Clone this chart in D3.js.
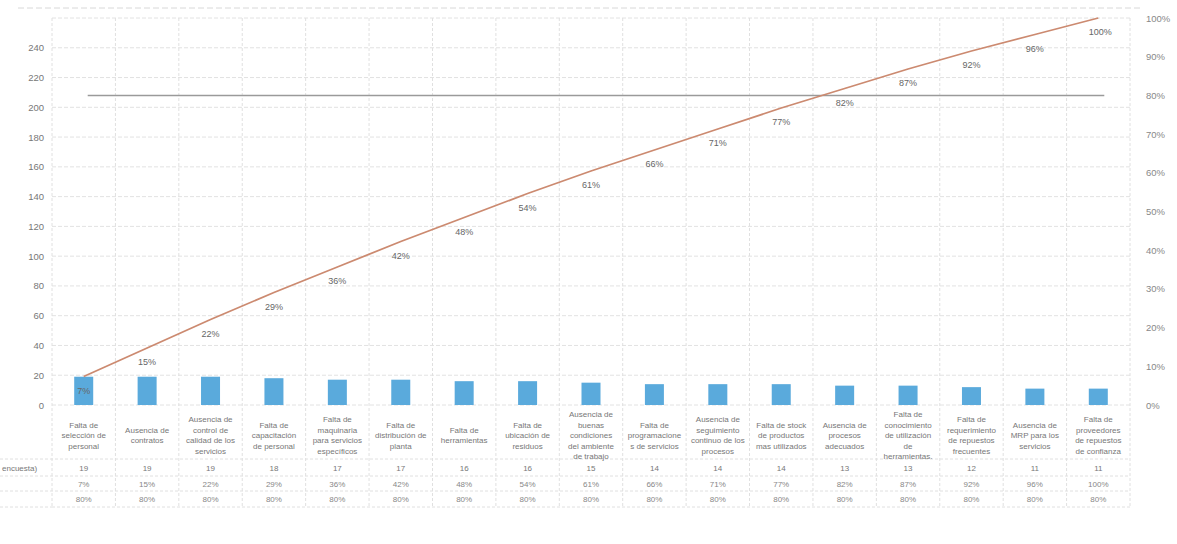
<!DOCTYPE html>
<html><head><meta charset="utf-8">
<script src="https://cdn.jsdelivr.net/npm/d3@7"></script>
<style>body{margin:0;background:#fff}svg{display:block;font-family:"Liberation Sans",Arial,sans-serif}</style>
</head><body><svg id="c" width="1177" height="544"></svg>
<script>
const categories = [
 ["Falta de","selección de","personal"],
 ["Ausencia de","contratos"],
 ["Ausencia de","control de","calidad de los","servicios"],
 ["Falta de","capacitación","de personal"],
 ["Falta de","maquinaria","para servicios","específicos"],
 ["Falta de","distribución de","planta"],
 ["Falta de","herramientas"],
 ["Falta de","ubicación de","residuos"],
 ["Ausencia de","buenas","condiciones","del ambiente","de trabajo"],
 ["Falta de","programacione","s de servicios"],
 ["Ausencia de","seguimiento","continuo de los","procesos"],
 ["Falta de stock","de productos","mas utilizados"],
 ["Ausencia de","procesos","adecuados"],
 ["Falta de","conocimiento","de utilización","de","herramientas."],
 ["Falta de","requerimiento","de repuestos","frecuentes"],
 ["Ausencia de","MRP para los","servicios"],
 ["Falta de","proveedores","de repuestos","de confianza"]
];
const values = [19,19,19,18,17,17,16,16,15,14,14,14,13,13,12,11,11];
const cumPctLabels = ["7%","15%","22%","29%","36%","42%","48%","54%","61%","66%","71%","77%","82%","87%","92%","96%","100%"];
const thresholdLabel = "80%";
const threshold = 0.8;
const leftTicks = [0,20,40,60,80,100,120,140,160,180,200,220,240];
const rightTicks = [0,0.1,0.2,0.3,0.4,0.5,0.6,0.7,0.8,0.9,1.0];
const rowHeader = "encuesta)";

const svg = d3.select("#c");
const L = 52, R = 1130, T = 18, B = 405;
const total = d3.sum(values);
let acc = 0;
const cum = values.map(v => (acc += v) / total);

const x = d3.scaleBand().domain(d3.range(values.length)).range([L, R]).paddingInner(0).paddingOuter(0);
const yL = d3.scaleLinear().domain([0, 260]).range([B, T]);
const yR = d3.scaleLinear().domain([0, 1]).range([B, T]);

// scan border top
svg.append("line").attr("x1",18).attr("x2",1140).attr("y1",8).attr("y2",8)
  .attr("stroke","#d8d8d8").attr("stroke-dasharray","6,3");

// grid
const g = svg.append("g");
g.selectAll(".h").data([...leftTicks, 260]).join("line")
  .attr("x1",L).attr("x2",R).attr("y1",d=>yL(d)).attr("y2",d=>yL(d))
  .attr("stroke","#e2e2e2").attr("stroke-dasharray","4,2");
const bounds = d3.range(values.length + 1).map(i => i < values.length ? x(i) : x(values.length-1) + x.bandwidth());
g.selectAll(".v").data(bounds).join("line")
  .attr("x1",d=>d).attr("x2",d=>d).attr("y1",T).attr("y2",507)
  .attr("stroke","#e0e0e0").attr("stroke-dasharray","3,2");

// left axis
const axL = svg.append("g").attr("transform",`translate(${L-4},0)`)
  .call(d3.axisLeft(yL).tickValues(leftTicks).tickSize(0).tickPadding(4));
axL.select(".domain").remove();
axL.selectAll("text").attr("fill","#777").style("font-size","9.5px");

// right axis
const axR = svg.append("g").attr("transform",`translate(${R+14},0)`)
  .call(d3.axisRight(yR).tickValues(rightTicks).tickFormat(d3.format(".0%")).tickSize(0).tickPadding(2));
axR.select(".domain").remove();
axR.selectAll("text").attr("fill","#888").style("font-size","9.5px");

// bars
const bw = 19;
svg.selectAll(".bar").data(values).join("rect")
  .attr("x",(d,i)=>x(i)+x.bandwidth()/2-bw/2).attr("width",bw)
  .attr("y",d=>yL(d)).attr("height",d=>B-yL(d))
  .attr("fill","#5aaadc");

// threshold line
svg.append("line")
  .attr("x1",x(0)+x.bandwidth()/2+4).attr("x2",x(values.length-1)+x.bandwidth()/2+6)
  .attr("y1",yR(threshold)).attr("y2",yR(threshold))
  .attr("stroke","#9a9a9a").attr("stroke-width",1.5);

// cumulative line
const line = d3.line().x((d,i)=>x(i)+x.bandwidth()/2).y(d=>yR(d));
svg.append("path").datum(cum).attr("d",line).attr("fill","none")
  .attr("stroke","#cc8a70").attr("stroke-width",1.8);

svg.selectAll(".pl").data(cum).join("text")
  .attr("x",(d,i)=>x(i)+x.bandwidth()/2+ (i===values.length-1?2:0))
  .attr("y",d=>yR(d)+17)
  .attr("text-anchor","middle").attr("fill","#666").style("font-size","9px")
  .text((d,i)=>cumPctLabels[i]);

// table
const rowsY = [459, 476, 491, 507];
svg.selectAll(".hr").data(rowsY).join("line")
  .attr("x1",(d,i)=>i<3?0:L).attr("x2",R).attr("y1",d=>d).attr("y2",d=>d)
  .attr("stroke","#e0e0e0").attr("stroke-dasharray","3,2");
svg.append("line").attr("x1",0).attr("x2",L).attr("y1",507).attr("y2",507)
  .attr("stroke","#e0e0e0").attr("stroke-dasharray","3,2");

const cat = svg.selectAll(".cat").data(categories).join("text")
  .attr("text-anchor","middle").attr("fill","#777").style("font-size","8px");
cat.each(function(lines,i){
  const t = d3.select(this);
  const lh = 10.5;
  const y0 = 435 - (lines.length-1)*lh/2 + 3;
  lines.forEach((s,k)=>t.append("tspan").attr("x",x(i)+x.bandwidth()/2).attr("y",y0+k*lh).text(s));
});

svg.append("text").attr("x",2).attr("y",471).attr("fill","#777").style("font-size","8px").text(rowHeader);
svg.selectAll(".r1").data(values).join("text")
  .attr("x",(d,i)=>x(i)+x.bandwidth()/2).attr("y",471).attr("text-anchor","middle")
  .attr("fill","#777").style("font-size","8px").text(d=>d);
svg.selectAll(".r2").data(cumPctLabels).join("text")
  .attr("x",(d,i)=>x(i)+x.bandwidth()/2).attr("y",487).attr("text-anchor","middle")
  .attr("fill","#888").style("font-size","8px").text(d=>d);
svg.selectAll(".r3").data(values).join("text")
  .attr("x",(d,i)=>x(i)+x.bandwidth()/2).attr("y",502).attr("text-anchor","middle")
  .attr("fill","#888").style("font-size","8px").text(thresholdLabel);
</script></body></html>
